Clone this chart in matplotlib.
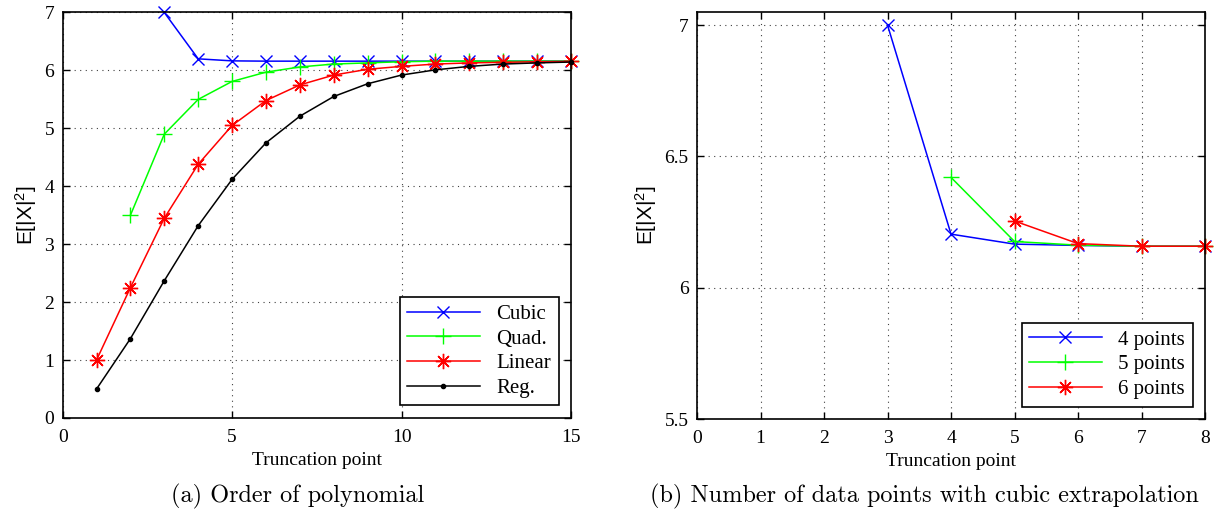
import numpy as np
import matplotlib
matplotlib.use("Agg")
import matplotlib.pyplot as plt

# (a) order of polynomial
trunc_a = np.arange(1, 16)
cubic_x = np.arange(3, 16)
cubic = [7.0, 6.20, 6.165, 6.16, 6.16, 6.16, 6.16, 6.16, 6.16, 6.16, 6.16, 6.16, 6.16]
quad_x = np.arange(2, 16)
quad = [3.5, 4.9, 5.5, 5.81, 5.97, 6.06, 6.11, 6.13, 6.15, 6.16, 6.16, 6.16, 6.16, 6.16]
linear = [1.0, 2.25, 3.45, 4.38, 5.05, 5.48, 5.75, 5.92, 6.02, 6.07, 6.11, 6.13, 6.14, 6.15, 6.155]
reg = [0.5, 1.37, 2.37, 3.32, 4.12, 4.75, 5.21, 5.55, 5.77, 5.92, 6.01, 6.07, 6.11, 6.13, 6.145]

# (b) number of data points with cubic extrapolation
pts4_x = [3, 4, 5, 6, 7, 8]
pts4 = [7.0, 6.204, 6.166, 6.161, 6.158, 6.158]
pts5_x = [4, 5, 6, 7, 8]
pts5 = [6.42, 6.176, 6.162, 6.158, 6.158]
pts6_x = [5, 6, 7, 8]
pts6 = [6.254, 6.168, 6.158, 6.158]

serif = "Liberation Serif"
plt.rcParams["font.family"] = serif
plt.rcParams["mathtext.fontset"] = "custom"
plt.rcParams["mathtext.rm"] = "Liberation Sans"
plt.rcParams["mathtext.it"] = "Liberation Sans"

star = (8, 2, 0)


def style_axes(ax):
    ax.grid(True, linestyle=(0, (1, 4)), color="0.25", linewidth=0.8)
    ax.tick_params(direction="in", top=True, right=True, length=5,
                   labelsize=14, width=1)
    ax.tick_params(axis="x", pad=8)
    ax.tick_params(axis="y", pad=6)
    for s in ax.spines.values():
        s.set_linewidth(1.2)
    ax.set_xlabel("Truncation point", fontsize=14, family=serif, labelpad=4)
    ax.set_ylabel(r"E[|X|$^2$]", fontsize=15, family="Liberation Sans", labelpad=4)


fig = plt.figure(figsize=(12.28, 5.12), dpi=100)
ax1 = fig.add_axes([0.051, 0.1836, 0.414, 0.792])
ax2 = fig.add_axes([0.5676, 0.1816, 0.4137, 0.795])

ax1.plot(cubic_x, cubic, color="#0000ff", marker="x", ms=9, lw=1.1, label="Cubic", clip_on=False)
ax1.plot(quad_x, quad, color="#00ff00", marker="+", ms=12, lw=1.1, label="Quad.", clip_on=False)
ax1.plot(trunc_a, linear, color="#ff0000", marker=star, ms=11, lw=1.1, label="Linear", clip_on=False)
ax1.plot(trunc_a, reg, color="black", marker=".", ms=6, lw=1.1, label="Reg.", clip_on=False)
ax1.set_xlim(0, 15)
ax1.set_ylim(0, 7)
ax1.set_xticks([0, 5, 10, 15])
ax1.set_yticks(range(8))
style_axes(ax1)
leg1 = ax1.legend(loc="lower right", fontsize=15, fancybox=False, edgecolor="black",
                  framealpha=1, handlelength=3.5, borderpad=0.35, labelspacing=0.25,
                  borderaxespad=0.6)
leg1.get_frame().set_linewidth(1.2)

ax2.plot(pts4_x, pts4, color="#0000ff", marker="x", ms=9, lw=1.1, label="4 points", clip_on=False)
ax2.plot(pts5_x, pts5, color="#00ff00", marker="+", ms=12, lw=1.1, label="5 points", clip_on=False)
ax2.plot(pts6_x, pts6, color="#ff0000", marker=star, ms=11, lw=1.1, label="6 points", clip_on=False)
ax2.set_xlim(0, 8)
ax2.set_ylim(5.5, 7.05)
ax2.set_xticks(range(9))
ax2.set_yticks([5.5, 6, 6.5, 7])
ax2.set_yticklabels(["5.5", "6", "6.5", "7"])
style_axes(ax2)
leg2 = ax2.legend(loc="lower right", fontsize=15, fancybox=False, edgecolor="black",
                  framealpha=1, handlelength=3.5, borderpad=0.35, labelspacing=0.25,
                  borderaxespad=0.6)
leg2.get_frame().set_linewidth(1.2)

fig.text(0.242, 0.03, "(a) Order of polynomial", ha="center", va="center",
         fontsize=17.5, family="cmr10")
fig.text(0.753, 0.03, "(b) Number of data points with cubic extrapolation",
         ha="center", va="center", fontsize=17.5, family="cmr10")

fig.savefig("out.png", dpi=100)
